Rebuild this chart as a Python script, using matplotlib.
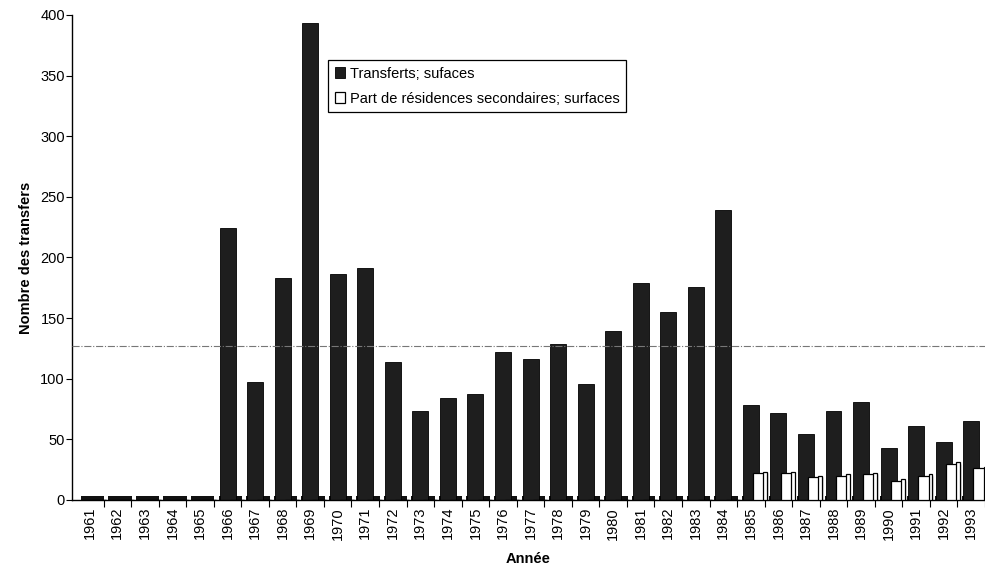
import matplotlib.pyplot as plt
import numpy as np

plt.rcParams['font.family'] = ['Liberation Sans', 'DejaVu Sans']

annees = list(range(1961, 1994))
transferts = [0, 0, 0, 0, 0, 224, 97, 183, 393, 186, 191, 114, 73, 84, 87, 122,
              116, 129, 96, 139, 179, 155, 176, 239, 78, 72, 54, 73, 81, 43, 61, 48, 65]
residences = [0, 0, 0, 0, 0, 0, 0, 0, 0, 0, 0, 0, 0, 0, 0, 0,
              0, 0, 0, 0, 0, 0, 0, 0, 22, 22, 19, 20, 21, 16, 20, 30, 26]

x = np.arange(len(annees))
t = np.array(transferts)
r = np.array(residences)

fig = plt.figure(figsize=(9.85, 5.74), dpi=100)
ax = fig.add_axes([0.073, 0.129, 0.927, 0.845])

# plancher 3D
ax.bar(x + 0.1, 3, width=0.85, color='#111111', zorder=1)
ax.bar(x, t, width=0.58, color='#1e1e1e', edgecolor='#000000', linewidth=0.6,
       label='Transferts; sufaces', zorder=2)
ax.bar(x + 0.33, r, width=0.5, color='white', edgecolor='black', linewidth=0.9,
       label='Part de résidences secondaires; surfaces', zorder=3)
# face latérale des barres blanches
ax.bar(x + 0.52, np.where(r > 0, r + 1, 0), width=0.14, color='white', edgecolor='black',
       linewidth=0.9, zorder=3)

moyenne = t[t > 0].mean()
ax.axhline(moyenne, color='#777777', linestyle='-.', linewidth=0.8, zorder=4)

ax.set_xlim(-0.65, 32.4)
ax.set_ylim(0, 400)
ax.set_yticks(np.arange(0, 401, 50))
ax.set_xticks(x)
ax.set_xticklabels([str(a) for a in annees], rotation=90, fontsize=10.5)
ax.tick_params(axis='x', length=0, pad=5)
ax.set_xticks(x + 0.5, minor=True)
ax.tick_params(axis='x', which='minor', length=5, width=0.8, direction='out')
ax.tick_params(axis='y', labelsize=10.5, length=4, width=0.8, pad=1)

for s in ['top', 'right']:
    ax.spines[s].set_visible(False)
ax.spines['left'].set_linewidth(1.0)
ax.spines['bottom'].set_linewidth(1.0)

ax.set_ylabel('Nombre des transfers', fontsize=10.5, fontweight='bold', labelpad=5)
ax.set_xlabel('Année', fontsize=10.5, fontweight='bold', labelpad=9)

leg = ax.legend(loc='upper left', bbox_to_anchor=(0.281, 0.907), fontsize=10.5,
                frameon=True, fancybox=False, edgecolor='black', framealpha=1,
                handlelength=0.7, handleheight=0.7, handletextpad=0.3,
                borderpad=0.45, labelspacing=0.75, borderaxespad=0)
leg.get_frame().set_linewidth(0.9)

fig.savefig('out.png', dpi=100)
